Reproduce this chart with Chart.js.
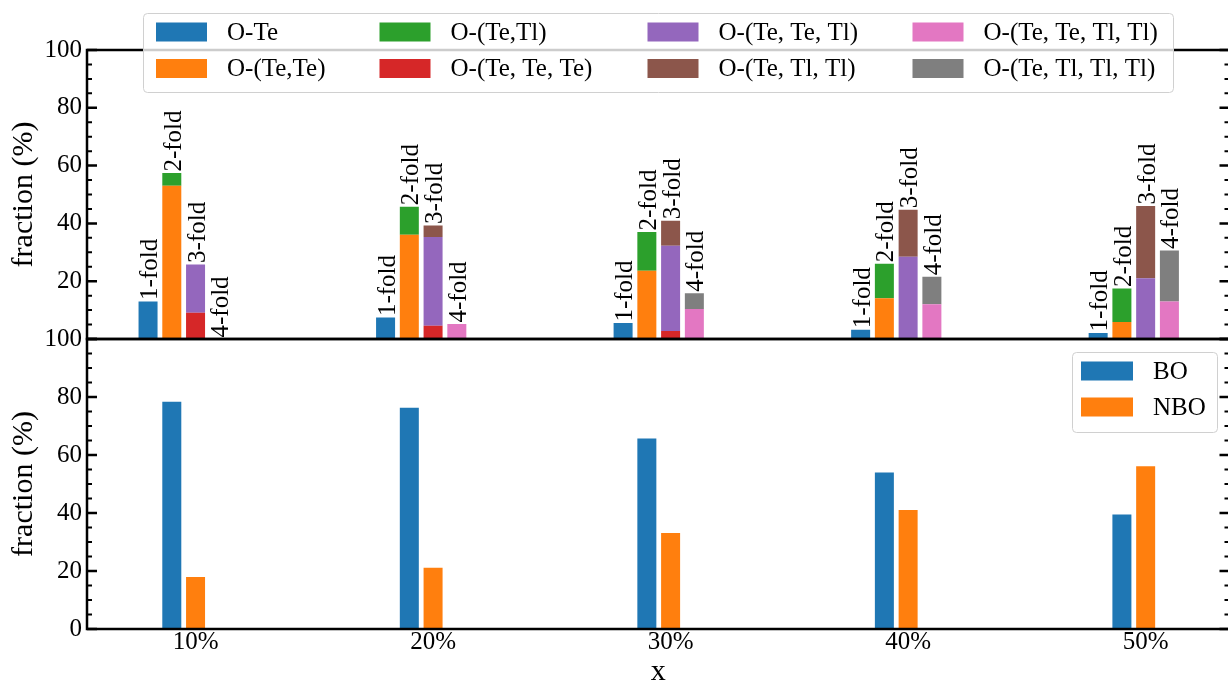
<!DOCTYPE html>
<html>
<head>
<meta charset="utf-8">
<script src="https://cdn.jsdelivr.net/npm/chart.js@4.4.1/dist/chart.umd.min.js"></script>
<style>
  body { margin: 0; background: #fff; }
  #wrap { position: relative; width: 1228px; height: 681px; overflow: hidden; }
  #wrap canvas { position: absolute; left: 0; top: 0; }
</style>
</head>
<body>
<div id="wrap">
  <canvas id="topChart" width="1240" height="681"></canvas>
  <canvas id="bottomChart" width="1240" height="681"></canvas>
</div>
<script>
// data
const categories = ['10%', '20%', '30%', '40%', '50%'];
const foldLabels = ['1-fold', '2-fold', '3-fold', '4-fold'];
const foldOffsets = [-0.2, -0.1, 0, 0.1];
const yTicks = [0, 20, 40, 60, 80, 100];

const speciesNames = ['O-Te', 'O-(Te,Te)', 'O-(Te,Tl)', 'O-(Te, Te, Te)',
    'O-(Te, Te, Tl)', 'O-(Te, Tl, Tl)', 'O-(Te, Te, Tl, Tl)', 'O-(Te, Tl, Tl, Tl)'];
const speciesFold = [0, 1, 1, 2, 2, 2, 3, 3];
const speciesColors = ['#1f77b4', '#ff7f0e', '#2ca02c', '#d62728',
    '#9467bd', '#8c564b', '#e377c2', '#7f7f7f'];

const oTe = [13.0, 7.4, 5.5, 3.2, 2.1];
const oTeTe = [53.0, 36.1, 23.6, 14.1, 5.9];
const oTeTl = [4.4, 9.7, 13.4, 11.9, 11.6];
const oTeTeTe = [9.1, 4.6, 2.8, 0, 0];
const oTeTeTl = [16.7, 30.7, 29.5, 28.5, 21.0];
const oTeTlTl = [0, 4.0, 8.6, 16.2, 25.0];
const oTeTeTlTl = [0, 5.2, 10.4, 12.0, 13.0];
const oTeTlTlTl = [0, 0, 5.4, 9.5, 17.6];
const speciesValues = [oTe, oTeTe, oTeTl, oTeTeTe, oTeTeTl, oTeTlTl, oTeTeTlTl, oTeTlTlTl];

const boNames = ['BO', 'NBO'];
const boOffsets = [-0.1, 0];
const boColors = ['#1f77b4', '#ff7f0e'];
const boValues = [78.4, 76.3, 65.7, 54.0, 39.5];
const nboValues = [17.9, 21.1, 33.1, 41.0, 56.1];

const FONT = '"Liberation Serif", "Times New Roman", serif';
Chart.defaults.font.family = FONT;
Chart.defaults.color = '#000';

// box + inward ticks on both sides
const framePlugin = {
    id: 'frame',
    afterDatasetsDraw(chart) {
        const { ctx, chartArea: a, scales: { y } } = chart;
        ctx.save();
        ctx.strokeStyle = '#000';
        ctx.lineWidth = 2.5;
        ctx.strokeRect(a.left, a.top, a.right - a.left, a.bottom - a.top);
        for (let v = 0; v <= 100; v += 5) {
            const py = y.getPixelForValue(v);
            const major = v % 20 === 0;
            const len = major ? 10 : 5;
            ctx.lineWidth = major ? 2.5 : 2;
            ctx.beginPath();
            ctx.moveTo(a.left, py); ctx.lineTo(a.left + len, py);
            ctx.moveTo(a.right, py); ctx.lineTo(a.right - len, py);
            ctx.stroke();
        }
        ctx.restore();
    }
};

// rotated "n-fold" labels on top of each stack
const foldLabelPlugin = {
    id: 'foldLabels',
    afterDatasetsDraw(chart) {
        const { ctx, scales: { x, y } } = chart;
        ctx.save();
        ctx.font = '25px ' + FONT;
        ctx.fillStyle = '#000';
        ctx.textAlign = 'left';
        ctx.textBaseline = 'alphabetic';
        foldLabels.forEach((name, f) => {
            categories.forEach((c, i) => {
                let total = 0;
                speciesValues.forEach((vals, s) => { if (speciesFold[s] === f) total += vals[i]; });
                const px = x.getPixelForValue(i + foldOffsets[f]);
                const py = y.getPixelForValue(total);
                ctx.save();
                ctx.translate(px + 9, py - 1.5);
                ctx.rotate(-Math.PI / 2);
                ctx.fillText(name, 0, 0);
                ctx.restore();
            });
        });
        ctx.restore();
    }
};

// matplotlib style legend box, column major
const boxLegendPlugin = {
    id: 'boxLegend',
    afterDraw(chart, args, opts) {
        const ctx = chart.ctx;
        const b = opts.box;
        ctx.save();
        ctx.fillStyle = 'rgba(255,255,255,0.8)';
        ctx.strokeStyle = '#d0d0d0';
        ctx.lineWidth = 1;
        ctx.beginPath();
        ctx.roundRect(b.x, b.y, b.w, b.h, 4);
        ctx.fill();
        ctx.stroke();
        ctx.font = '25px ' + FONT;
        ctx.textBaseline = 'middle';
        ctx.textAlign = 'left';
        chart.data.datasets.forEach((ds, k) => {
            const col = Math.floor(k / opts.rows);
            const row = k % opts.rows;
            const sx = opts.colX[col];
            const sy = opts.rowY[row];
            ctx.fillStyle = ds.backgroundColor;
            ctx.fillRect(sx, sy - 9.5, opts.swatchW, 19);
            ctx.fillStyle = '#000';
            ctx.fillText(ds.label, sx + opts.swatchW + 20, sy + 1);
        });
        ctx.restore();
    }
};

const xMin = -0.457;
const xMax = 4.353;

function yAxis(hideZero) {
    return {
        min: 0, max: 100, stacked: true,
        afterBuildTicks: s => { s.ticks = yTicks.map(v => ({ value: v })); },
        afterFit: s => { s.width = 87; },
        grid: { display: false, drawTicks: false },
        border: { display: false },
        ticks: {
            font: { size: 25 }, padding: 5, color: '#000',
            callback: v => (hideZero && v === 0) ? '' : String(v)
        },
        title: { display: true, text: 'fraction (%)', font: { size: 30 }, padding: { top: 6, bottom: 0 }, color: '#000' }
    };
}

const topDatasets = speciesNames.map((name, s) => ({
    label: name,
    data: speciesValues[s].map((v, i) => ({ x: i + foldOffsets[speciesFold[s]], y: v })),
    backgroundColor: speciesColors[s],
    borderWidth: 0,
    barPercentage: 0.8,
    categoryPercentage: 1
}));

new Chart(document.getElementById('topChart'), {
    type: 'bar',
    data: { datasets: topDatasets },
    options: {
        responsive: false, animation: false, devicePixelRatio: 1, events: [],
        layout: { padding: { left: 0, top: 50, right: 10.5, bottom: 342 } },
        scales: {
            x: {
                type: 'linear', min: xMin, max: xMax, stacked: true, display: false, offset: false,
                afterBuildTicks: s => { s.ticks = categories.map((c, i) => ({ value: i })); }
            },
            y: yAxis(true)
        },
        plugins: {
            legend: { display: false }, tooltip: { enabled: false },
            boxLegend: {
                box: { x: 143.5, y: 13.5, w: 1030, h: 79 },
                rows: 2, swatchW: 51,
                colX: [156, 379.5, 647.5, 912.5],
                rowY: [32, 68.5]
            }
        }
    },
    plugins: [framePlugin, foldLabelPlugin, boxLegendPlugin]
});

const bottomDatasets = [boValues, nboValues].map((vals, k) => ({
    label: boNames[k],
    data: vals.map((v, i) => ({ x: i + boOffsets[k], y: v })),
    backgroundColor: boColors[k],
    borderWidth: 0,
    barPercentage: 0.8,
    categoryPercentage: 1
}));

new Chart(document.getElementById('bottomChart'), {
    type: 'bar',
    data: { datasets: bottomDatasets },
    options: {
        responsive: false, animation: false, devicePixelRatio: 1, events: [],
        layout: { padding: { left: 0, top: 339, right: 10.5, bottom: 0 } },
        scales: {
            x: {
                type: 'linear', min: xMin, max: xMax, stacked: true, offset: false,
                afterBuildTicks: s => { s.ticks = categories.map((c, i) => ({ value: i })); },
                afterFit: s => { s.height = 52; },
                grid: { display: false, drawTicks: false },
                border: { display: false },
                ticks: {
                    font: { size: 25 }, padding: -2, color: '#000', autoSkip: false, maxRotation: 0,
                    callback: v => categories[v]
                },
                title: { display: true, text: 'x', font: { size: 30 }, padding: { top: 0, bottom: -9 }, color: '#000' }
            },
            y: yAxis(false)
        },
        plugins: {
            legend: { display: false }, tooltip: { enabled: false },
            boxLegend: {
                box: { x: 1072.5, y: 352.5, w: 145, h: 80 },
                rows: 2, swatchW: 52,
                colX: [1081],
                rowY: [371, 407]
            }
        }
    },
    plugins: [framePlugin, boxLegendPlugin]
});
</script>
</body>
</html>
